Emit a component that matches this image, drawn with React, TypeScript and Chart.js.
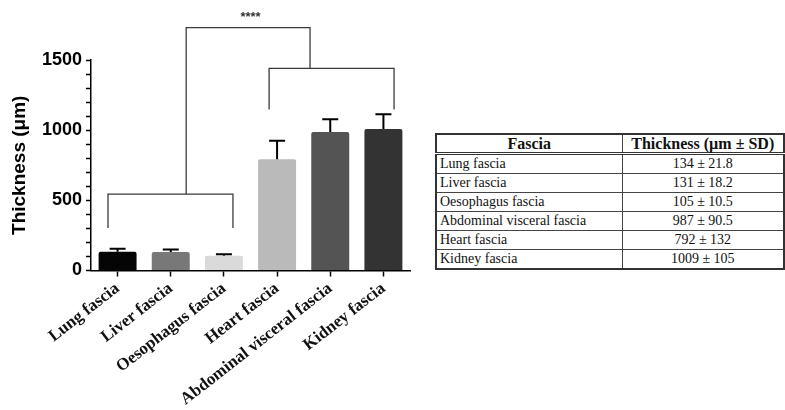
import React, { useEffect, useRef } from "react";
import { Chart, registerables } from "chart.js";

Chart.register(...registerables);

const categories = [
  "Lung fascia",
  "Liver fascia",
  "Oesophagus fascia",
  "Heart fascia",
  "Abdominal visceral fascia",
  "Kidney fascia",
];
const thickness = [134, 131, 105, 792, 987, 1009];
const sdValues = [21.8, 18.2, 10.5, 132, 90.5, 105];
const barColors = ["#050505", "#787878", "#dadada", "#bababa", "#545454", "#333333"];

// significance brackets in data units (category index, value)
const bracketX1 = [-0.18, 2.85, 1.29];
const bracketX2 = [2.17, 5.2, 3.62];
const bracketTop = [544, 1440, 1731];
const bracketLeftEnd = [302, 1148, 544];
const bracketRightEnd = [302, 1148, 1440];
const starLabel = "****";
const starX = 2.5;
const starY = 1805;

const tableHeaders = ["Fascia", "Thickness (\u00b5m \u00b1 SD)"];
const tableFascia = [
  "Lung fascia",
  "Liver fascia",
  "Oesophagus fascia",
  "Abdominal visceral fascia",
  "Heart fascia",
  "Kidney fascia",
];
const tableValues = [
  "134 \u00b1 21.8",
  "131 \u00b1 18.2",
  "105 \u00b1 10.5",
  "987 \u00b1 90.5",
  "792 \u00b1 132",
  "1009 \u00b1 105",
];

const overlayPlugin = {
  id: "overlay",
  afterDatasetsDraw(chart: any) {
    const ctx = chart.ctx;
    const xs = chart.scales.x;
    const ys = chart.scales.y;
    ctx.save();
    // error bars (upper only)
    ctx.strokeStyle = "#000";
    ctx.lineWidth = 2;
    thickness.forEach((v, i) => {
      const x = xs.getPixelForValue(i);
      const yb = ys.getPixelForValue(v);
      const yt = ys.getPixelForValue(v + sdValues[i]);
      ctx.beginPath();
      ctx.moveTo(x, yb);
      ctx.lineTo(x, yt);
      ctx.moveTo(x - 8, yt);
      ctx.lineTo(x + 8, yt);
      ctx.stroke();
    });
    // brackets
    ctx.strokeStyle = "#3a3a3a";
    ctx.lineWidth = 1.3;
    bracketX1.forEach((bx, i) => {
      const x1 = xs.getPixelForValue(bx);
      const x2 = xs.getPixelForValue(bracketX2[i]);
      const yt = ys.getPixelForValue(bracketTop[i]);
      const yl = ys.getPixelForValue(bracketLeftEnd[i]);
      const yr = ys.getPixelForValue(bracketRightEnd[i]);
      ctx.beginPath();
      ctx.moveTo(x1, yl);
      ctx.lineTo(x1, yt);
      ctx.lineTo(x2, yt);
      ctx.lineTo(x2, yr);
      ctx.stroke();
    });
    ctx.fillStyle = "#333";
    ctx.font = "bold 13px 'Liberation Sans', Arial, sans-serif";
    ctx.textAlign = "center";
    ctx.textBaseline = "middle";
    ctx.fillText(starLabel, xs.getPixelForValue(starX), ys.getPixelForValue(starY));
    ctx.restore();
  },
};

function BarChart() {
  const ref = useRef<HTMLCanvasElement>(null);
  useEffect(() => {
    if (!ref.current) return;
    const chart = new Chart(ref.current, {
      type: "bar",
      data: {
        labels: categories,
        datasets: [
          {
            data: thickness,
            backgroundColor: barColors,
            borderWidth: 0,
            borderRadius: 2,
            barPercentage: 0.714,
            categoryPercentage: 1,
          },
        ],
      },
      options: {
        responsive: false,
        animation: false,
        layout: { padding: { top: 60, left: 0, right: 10, bottom: 0 } },
        plugins: {
          legend: { display: false },
          tooltip: { enabled: false },
        },
        scales: {
          x: {
            grid: {
              offset: false,
              drawOnChartArea: false,
              tickLength: 6,
              tickWidth: 1.5,
              tickColor: "#000",
            },
            border: { display: true, color: "#000", width: 1.5 },
            ticks: {
              minRotation: 38,
              maxRotation: 38,
              color: "#111",
              padding: 2,
              font: { family: "'Liberation Serif', 'Times New Roman', serif", weight: "bold", size: 17 },
            },
            afterFit: (scale: any) => {
              scale.height = 139.5;
            },
          },
          y: {
            min: 0,
            max: 1500,
            grid: {
              drawOnChartArea: false,
              tickLength: 5,
              tickWidth: 1.5,
              tickColor: "#000",
            },
            border: { display: true, color: "#000", width: 1.5 },
            ticks: {
              stepSize: 100,
              autoSkip: false,
              padding: 4,
              color: "#000",
              font: { family: "'Liberation Sans', Arial, sans-serif", weight: "bold", size: 18 },
              callback: (v: any) => (Number(v) % 500 === 0 ? String(v) : ""),
            },
            title: {
              display: true,
              text: "Thickness (\u03bcm)",
              color: "#000",
              padding: { top: 8, bottom: 0 },
              font: { family: "'Liberation Sans', Arial, sans-serif", weight: "bold", size: 19 },
            },
            afterFit: (scale: any) => {
              scale.width = 91;
            },
          },
        },
      },
      plugins: [overlayPlugin],
    });
    return () => chart.destroy();
  }, []);
  return <canvas ref={ref} width={420} height={410} style={{ position: "absolute", left: 0, top: 0 }} />;
}

function FasciaTable() {
  const cellBase: React.CSSProperties = {
    border: "1px solid #444",
    padding: "0 3px",
    height: 18,
    lineHeight: "18px",
    fontSize: 14,
    color: "#111",
    whiteSpace: "nowrap",
  };
  return (
    <table
      style={{
        position: "absolute",
        left: 435,
        top: 133,
        width: 348,
        borderCollapse: "collapse",
        tableLayout: "fixed",
        border: "2px solid #333",
        fontFamily: "'Liberation Serif', 'Times New Roman', serif",
      }}
    >
      <colgroup>
        <col style={{ width: 186 }} />
        <col style={{ width: 162 }} />
      </colgroup>
      <thead>
        <tr>
          {tableHeaders.map((h) => (
            <th
              key={h}
              style={{
                ...cellBase,
                height: 17,
                lineHeight: "17px",
                fontSize: 16,
                fontWeight: "bold",
                textAlign: "center",
                borderBottom: "3px double #333",
              }}
            >
              {h}
            </th>
          ))}
        </tr>
      </thead>
      <tbody>
        {tableFascia.map((f, i) => (
          <tr key={f}>
            <td style={{ ...cellBase, textAlign: "left" }}>{f}</td>
            <td style={{ ...cellBase, textAlign: "center" }}>{tableValues[i]}</td>
          </tr>
        ))}
      </tbody>
    </table>
  );
}

export default function App() {
  return (
    <div style={{ position: "absolute", left: 0, top: 0, width: 785, height: 410, background: "#fff", overflow: "hidden" }}>
      <BarChart />
      <FasciaTable />
    </div>
  );
}
